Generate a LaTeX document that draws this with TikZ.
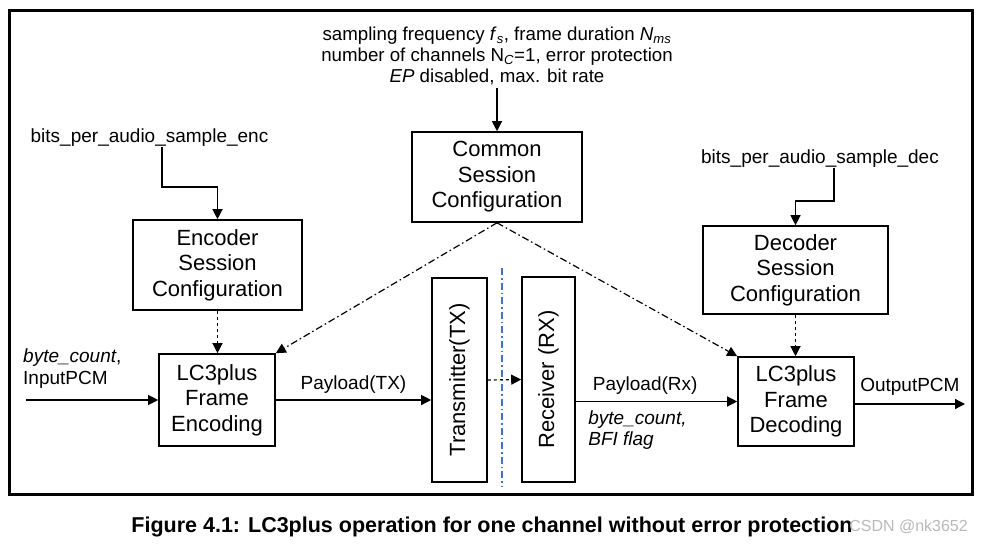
\documentclass[tikz,border=0pt]{standalone}
\usepackage{fontspec}
\setmainfont{Liberation Sans}
\usetikzlibrary{arrows.meta}
\definecolor{sepblue}{RGB}{68,114,196}

\begin{document}
\begin{tikzpicture}[x=1pt, y=-1pt, >={Triangle[length=10pt,width=10pt]},
  box/.style={draw, line width=1.6pt, align=center, inner sep=0pt, font=\fontsize{22}{25.5}\selectfont},
  lbl/.style={inner sep=0pt, font=\fontsize{19}{22}\selectfont},
  link/.style={->, line width=1.2pt},
  ctrl/.style={->, line width=1.2pt, dash pattern=on 7pt off 3pt on 1.5pt off 3pt}]
  \useasboundingbox (0,0) rectangle (981,552);
  \draw[line width=3pt] (9,10) rectangle (972,494);

  \node[lbl, align=center, font=\fontsize{18.7}{21}\selectfont] (params) at (497,56) {sampling frequency \textit{f}\textsubscript{\textit{s}}, frame duration \textit{N}\textsubscript{\textit{ms}}\\number of channels N\textsubscript{\textit{C}}=1, error protection\\\textit{EP} disabled, max. bit rate};
  \node[box, minimum width=170, minimum height=90] (common) at (497,177) {Common\\Session\\Configuration};
  \node[box, minimum width=169, minimum height=90] (encconf) at (217.5,265) {Encoder\\Session\\Configuration};
  \node[box, minimum width=185, minimum height=88] (decconf) at (795.5,270) {Decoder\\Session\\Configuration};
  \node[box, minimum width=116, minimum height=92] (enc) at (217,400) {LC3plus\\Frame\\Encoding};
  \node[box, minimum width=116, minimum height=89] (dec) at (796,401.5) {LC3plus\\Frame\\Decoding};
  \node[box, minimum width=55, minimum height=204] (tx) at (459.5,380) {\rotatebox{90}{Transmitter(TX)}};
  \node[box, minimum width=53, minimum height=205] (rx) at (548.5,379.5) {\rotatebox{90}{Receiver (RX)}};

  \node[lbl] (bitsenc) at (149.5,138) {bits\_per\_audio\_sample\_enc};
  \node[lbl] (bitsdec) at (820,159) {bits\_per\_audio\_sample\_dec};
  \node[lbl, align=left, anchor=west] (inlbl) at (23,369) {\textit{byte\_count},\\InputPCM};

  \coordinate (inpcm) at (26,400);
  \coordinate (outpcm) at (965,404);
  \coordinate (encbend) at (162,187);
  \coordinate (decbend) at (834,201);
  \coordinate (septop) at (502,268);
  \coordinate (sepbot) at (502,487);

  \draw[link] ([yshift=-3pt]params.south) -- (common);
  \draw[link] (bitsenc.south -| encbend) -- (encbend) -| (encconf.north);
  \draw[link] (bitsdec.south -| decbend) -- (decbend) -| (decconf.north);
  \draw[link, dashed] (encconf.south) -- (encconf.south |- enc.north);
  \draw[link, dashed] (decconf.south) -- (decconf.south |- dec.north);
  \draw[ctrl] (common.south) -- (enc.north east);
  \draw[ctrl] (common.south) -- (dec.north west);
  \draw[link] (inpcm) -- (enc.west);
  \draw[link] (enc.east) -- (enc.east -| tx.west) node[lbl, midway, above=6pt] {Payload(TX)};
  \draw[link, dashed] (tx.east) -- (rx.west);
  \draw[link] (dec.west -| rx.east) -- (dec.west)
    node[lbl, pos=0.43, above=6pt] {Payload(Rx)}
    node[lbl, pos=0.074, anchor=north west, yshift=-9pt, align=left, font=\itshape\fontsize{19}{21}\selectfont] {byte\_count,\\BFI flag};
  \draw[link] (dec.east |- outpcm) -- (outpcm) node[lbl, midway, above=8pt] {OutputPCM};
  \draw[sepblue, line width=1.3pt, dash pattern=on 7pt off 3pt on 1.5pt off 3pt] (septop) -- (sepbot);

  \node[inner sep=0pt, font=\bfseries\fontsize{21.5}{24}\selectfont] (caption) at (492,527) {Figure 4.1: LC3plus operation for one channel without error protection};
  \node[inner sep=0pt, anchor=east, text=gray!55, font=\fontsize{16}{18}\selectfont] (mark) at (968,527) {CSDN @nk3652};
\end{tikzpicture}
\end{document}
